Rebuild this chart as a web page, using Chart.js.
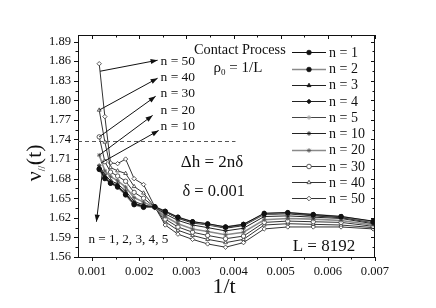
<!DOCTYPE html>
<html><head><meta charset="utf-8">
<script src="https://cdn.jsdelivr.net/npm/chart.js@4.4.0/dist/chart.umd.min.js"></script>
<style>html,body{margin:0;padding:0;background:#fff;}</style>
</head><body>
<canvas id="c" width="436" height="308"></canvas>
<script>
// ---- data (1/t values and nu_// values) ----
const xVals = [0.00115, 0.00127, 0.00139, 0.00154, 0.00171, 0.00189, 0.00209, 0.00233, 0.00255, 0.00282, 0.00313, 0.00345, 0.00383, 0.00421, 0.00465, 0.00515, 0.00569, 0.00628, 0.00696];
const n1  = [1.695, 1.681, 1.673, 1.668, 1.656, 1.641, 1.637, 1.637, 1.630, 1.621, 1.614, 1.611, 1.606, 1.610, 1.627, 1.628, 1.625, 1.622, 1.615];
const n2  = [1.694, 1.680, 1.673, 1.667, 1.655, 1.640, 1.636, 1.637, 1.630, 1.621, 1.614, 1.610, 1.606, 1.610, 1.626, 1.628, 1.625, 1.622, 1.614];
const n3  = [1.695, 1.682, 1.674, 1.668, 1.657, 1.641, 1.637, 1.637, 1.629, 1.620, 1.613, 1.610, 1.605, 1.609, 1.626, 1.627, 1.624, 1.621, 1.614];
const n4  = [1.696, 1.681, 1.674, 1.669, 1.656, 1.642, 1.638, 1.636, 1.629, 1.620, 1.613, 1.610, 1.605, 1.609, 1.626, 1.627, 1.624, 1.621, 1.613];
const n5  = [1.697, 1.683, 1.675, 1.669, 1.658, 1.642, 1.638, 1.636, 1.629, 1.619, 1.612, 1.609, 1.604, 1.608, 1.625, 1.626, 1.623, 1.620, 1.613];
const n10 = [1.700, 1.686, 1.677, 1.672, 1.661, 1.645, 1.640, 1.636, 1.626, 1.616, 1.609, 1.605, 1.600, 1.604, 1.622, 1.623, 1.621, 1.619, 1.611];
const n20 = [1.716, 1.692, 1.683, 1.677, 1.667, 1.651, 1.644, 1.636, 1.622, 1.611, 1.603, 1.599, 1.594, 1.598, 1.617, 1.619, 1.618, 1.616, 1.609];
const n30 = [1.744, 1.706, 1.690, 1.684, 1.676, 1.659, 1.650, 1.636, 1.618, 1.606, 1.598, 1.593, 1.588, 1.592, 1.613, 1.615, 1.614, 1.613, 1.607];
const n40 = [1.785, 1.736, 1.697, 1.692, 1.688, 1.668, 1.658, 1.636, 1.614, 1.601, 1.593, 1.587, 1.582, 1.587, 1.609, 1.611, 1.610, 1.609, 1.605];
const n50 = [1.856, 1.775, 1.704, 1.703, 1.710, 1.680, 1.671, 1.637, 1.609, 1.595, 1.587, 1.580, 1.575, 1.582, 1.603, 1.606, 1.606, 1.606, 1.603];
const seriesLabels = ['n = 1','n = 2','n = 3','n = 4','n = 5','n = 10','n = 20','n = 30','n = 40','n = 50'];
const seriesValues = [n1, n2, n3, n4, n5, n10, n20, n30, n40, n50];
const xTicks = [0.001, 0.002, 0.003, 0.004, 0.005, 0.006, 0.007];
const yTicks = [1.56, 1.59, 1.62, 1.65, 1.68, 1.71, 1.74, 1.77, 1.80, 1.83, 1.86, 1.89];
const xRange = [0.0007, 0.007];
const yRange = [1.56, 1.90];
const dashedLevel = 1.7375;

// ---- styles ----
const SERIF = "'Liberation Serif', 'DejaVu Serif', serif";
const styles = [
  {line:'#111', pt:'circle',   fill:'#111', stroke:'#111', lw:1},
  {line:'#8a8a8a', pt:'circle',fill:'#111', stroke:'#111', lw:1.6},
  {line:'#222', pt:'triangle', fill:'#111', stroke:'#111', lw:1},
  {line:'#222', pt:'rectRot',  fill:'#111', stroke:'#111', lw:1},
  {line:'#444', pt:'star',     fill:'#999', stroke:'#999', lw:1},
  {line:'#222', pt:'star',     fill:'#111', stroke:'#111', lw:1},
  {line:'#8a8a8a', pt:'star',  fill:'#555', stroke:'#555', lw:1.6},
  {line:'#333', pt:'circle',   fill:'#fff', stroke:'#333', lw:1},
  {line:'#333', pt:'triangle', fill:'#fff', stroke:'#333', lw:1},
  {line:'#333', pt:'rectRot',  fill:'#fff', stroke:'#333', lw:1}
];

const datasets = seriesValues.map((vals, i) => ({
  label: seriesLabels[i],
  data: vals.map((v, k) => ({x: xVals[k], y: v})),
  showLine: true,
  borderColor: styles[i].line,
  borderWidth: styles[i].lw,
  pointStyle: styles[i].pt,
  pointRadius: 2.2,
  pointBorderWidth: 0.8,
  pointBackgroundColor: styles[i].fill,
  pointBorderColor: styles[i].stroke,
  tension: 0
}));

// annotations in data coordinates
const arrows = [
  {from:[0.001168, 1.8445], to:[0.002389, 1.8614]},
  {from:[0.00115, 1.785],  to:[0.002389, 1.8338]},
  {from:[0.00115, 1.744],  to:[0.002347, 1.8061]},
  {from:[0.00115, 1.716],  to:[0.002283, 1.7769]},
  {from:[0.00119, 1.704],  to:[0.002411, 1.7538]},
  {from:[0.001219, 1.6908], to:[0.001091, 1.614]}
];
const arrowLabels = [
  {text:'n = 50', at:[0.00245, 1.8588]},
  {text:'n = 40', at:[0.00245, 1.8348]},
  {text:'n = 30', at:[0.00245, 1.8102]},
  {text:'n = 20', at:[0.00245, 1.7846]},
  {text:'n = 10', at:[0.00245, 1.7595]}
];

function arrowHead(ctx, x1, y1, x2, y2) {
  const a = Math.atan2(y2 - y1, x2 - x1), L = 7, W = 2.6;
  ctx.beginPath();
  ctx.moveTo(x2, y2);
  ctx.lineTo(x2 - L*Math.cos(a) + W*Math.sin(a), y2 - L*Math.sin(a) - W*Math.cos(a));
  ctx.lineTo(x2 - L*Math.cos(a) - W*Math.sin(a), y2 - L*Math.sin(a) + W*Math.cos(a));
  ctx.closePath();
  ctx.fill();
}

const decor = {
  id: 'decor',
  afterDraw(chart) {
    const {ctx, chartArea: ca, scales: {x, y}} = chart;
    ctx.save();
    // frame
    ctx.strokeStyle = '#111'; ctx.lineWidth = 1;
    ctx.strokeRect(ca.left + 0.5, ca.top + 0.5, ca.right - ca.left - 1, ca.bottom - ca.top);
    // ticks
    ctx.beginPath();
    for (let i = 0; i < xTicks.length; i++) {
      const px = Math.round(x.getPixelForValue(xTicks[i])) + 0.5;
      ctx.moveTo(px, ca.bottom); ctx.lineTo(px, ca.bottom + 4);
      ctx.moveTo(px, ca.top); ctx.lineTo(px, ca.top + 4);
      if (i < xTicks.length - 1) {
        const mn = Math.round(x.getPixelForValue((xTicks[i] + xTicks[i+1]) / 2)) + 0.5;
        ctx.moveTo(mn, ca.bottom); ctx.lineTo(mn, ca.bottom + 2.5);
        ctx.moveTo(mn, ca.top); ctx.lineTo(mn, ca.top + 2.5);
      }
    }
    for (let i = 0; i < yTicks.length; i++) {
      const py = Math.round(y.getPixelForValue(yTicks[i])) + 0.5;
      ctx.moveTo(ca.left, py); ctx.lineTo(ca.left - 4, py);
      ctx.moveTo(ca.right, py); ctx.lineTo(ca.right - 4, py);
      const mv = yTicks[i] + 0.015;
      if (mv < yRange[1]) {
        const my = Math.round(y.getPixelForValue(mv)) + 0.5;
        ctx.moveTo(ca.left, my); ctx.lineTo(ca.left - 2.5, my);
        ctx.moveTo(ca.right, my); ctx.lineTo(ca.right - 2.5, my);
      }
    }
    ctx.stroke();

    // dashed reference line
    ctx.strokeStyle = '#555'; ctx.lineWidth = 1; ctx.setLineDash([4, 3]);
    ctx.beginPath();
    const dy = Math.round(y.getPixelForValue(dashedLevel)) + 0.5;
    ctx.moveTo(ca.left, dy); ctx.lineTo(x.getPixelForValue(0.00404), dy);
    ctx.stroke();
    ctx.setLineDash([]);

    // arrows
    ctx.strokeStyle = '#111'; ctx.fillStyle = '#111'; ctx.lineWidth = 1;
    arrows.forEach(a => {
      const x1 = x.getPixelForValue(a.from[0]), y1 = y.getPixelForValue(a.from[1]);
      const x2 = x.getPixelForValue(a.to[0]), y2 = y.getPixelForValue(a.to[1]);
      ctx.beginPath(); ctx.moveTo(x1, y1); ctx.lineTo(x2, y2); ctx.stroke();
      arrowHead(ctx, x1, y1, x2, y2);
    });

    // texts
    ctx.fillStyle = '#111'; ctx.textBaseline = 'middle'; ctx.textAlign = 'left';
    ctx.font = '13.5px ' + SERIF;
    arrowLabels.forEach(l => ctx.fillText(l.text, x.getPixelForValue(l.at[0]), y.getPixelForValue(l.at[1])));
    ctx.font = '13.2px ' + SERIF;
    ctx.fillText('n = 1, 2, 3, 4, 5', x.getPixelForValue(0.000921), y.getPixelForValue(1.5874));
    ctx.font = '17px ' + SERIF;
    ctx.fillText('\u0394h = 2n\u03b4', x.getPixelForValue(0.002879), y.getPixelForValue(1.7046));
    ctx.font = '16.5px ' + SERIF;
    ctx.fillText('\u03b4 = 0.001', x.getPixelForValue(0.002915), y.getPixelForValue(1.6605));
    ctx.font = '17px ' + SERIF;
    ctx.fillText('L = 8192', x.getPixelForValue(0.005255), y.getPixelForValue(1.576));
    ctx.textAlign = 'center';
    ctx.font = '14.3px ' + SERIF;
    ctx.fillText('Contact Process', x.getPixelForValue(0.004134), y.getPixelForValue(1.8773));
    // rho_0 = 1/L
    ctx.textAlign = 'left';
    let rx = x.getPixelForValue(0.003575), ry = y.getPixelForValue(1.8499);
    ctx.font = '15px ' + SERIF;
    ctx.fillText('\u03c1', rx, ry); rx += ctx.measureText('\u03c1').width;
    ctx.font = '9px ' + SERIF;
    ctx.fillText('0', rx, ry + 5); rx += ctx.measureText('0').width;
    ctx.font = '15px ' + SERIF;
    ctx.fillText(' = 1/L', rx, ry);

    // legend
    const lx0 = 292, lx1 = 326, tx = 329, ly0 = 52.3, dly = 16.22;
    ctx.font = '14px ' + SERIF;
    datasets.forEach((d, i) => {
      const ly = ly0 + i * dly;
      ctx.strokeStyle = d.borderColor; ctx.lineWidth = d.borderWidth;
      ctx.beginPath(); ctx.moveTo(lx0, Math.round(ly) + 0.5); ctx.lineTo(lx1, Math.round(ly) + 0.5); ctx.stroke();
      ctx.fillStyle = d.pointBackgroundColor; ctx.strokeStyle = d.pointBorderColor; ctx.lineWidth = d.pointBorderWidth;
      Chart.helpers.drawPoint(ctx, {pointStyle: d.pointStyle, radius: 2.3, rotation: 0, borderWidth: d.pointBorderWidth}, (lx0 + lx1) / 2, Math.round(ly) + 0.5);
      ctx.fillStyle = '#111';
      ctx.fillText(d.label, tx, ly + 1);
    });

    // axis titles
    ctx.fillStyle = '#111';
    ctx.font = '22px ' + SERIF;
    ctx.textAlign = 'center';
    ctx.fillText('1/t', 224, 287);
    ctx.save();
    ctx.translate(35, 163);
    ctx.rotate(-Math.PI / 2);
    ctx.textAlign = 'left';
    ctx.font = '22px ' + SERIF;
    const nuW = ctx.measureText('\u03bd').width;
    ctx.font = '10px ' + SERIF;
    const subW = ctx.measureText('//').width;
    ctx.font = '22px ' + SERIF;
    const tW = ctx.measureText('(t)').width;
    let sx = -(nuW + subW + tW) / 2;
    ctx.fillText('\u03bd', sx, 0); sx += nuW;
    ctx.font = '10px ' + SERIF;
    ctx.fillText('//', sx, 7); sx += subW + 0.5;
    ctx.font = '22px ' + SERIF;
    ctx.fillText('(t)', sx, 0);
    ctx.restore();

    ctx.restore();
  }
};

new Chart(document.getElementById('c'), {
  type: 'scatter',
  data: {datasets},
  options: {
    responsive: false,
    animation: false,
    devicePixelRatio: 1,
    layout: {padding: {left: 0, top: 35, right: 61, bottom: 0}},
    plugins: {legend: {display: false}, tooltip: {enabled: false}},
    scales: {
      x: {
        type: 'linear', min: xRange[0], max: xRange[1],
        afterBuildTicks: s => { s.ticks = xTicks.map(v => ({value: v})); },
        afterFit: s => { s.height = 51; },
        grid: {display: false, drawTicks: false, tickLength: 0},
        border: {display: false},
        ticks: {color: '#111', font: {family: SERIF, size: 12.6}, padding: 7, maxRotation: 0, autoSkip: false,
                callback: v => v.toFixed(3)}
      },
      y: {
        type: 'linear', min: yRange[0], max: yRange[1],
        afterBuildTicks: s => { s.ticks = yTicks.map(v => ({value: v})); },
        afterFit: s => { s.width = 78; },
        grid: {display: false, drawTicks: false, tickLength: 0},
        border: {display: false},
        ticks: {color: '#111', font: {family: SERIF, size: 12.6}, padding: 7, autoSkip: false,
                callback: v => v.toFixed(2)}
      }
    }
  },
  plugins: [decor]
});
</script>
</body></html>
